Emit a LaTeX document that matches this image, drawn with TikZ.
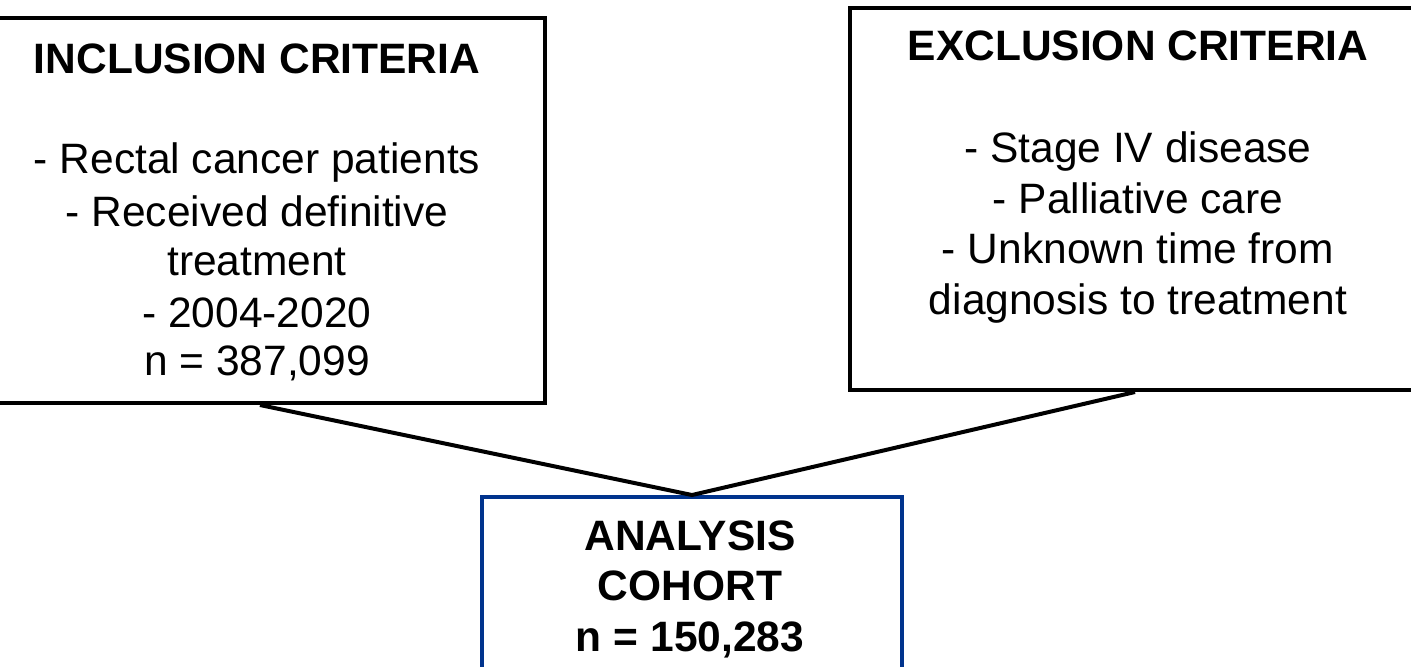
\documentclass[tikz,border=0pt]{standalone}
\usepackage{fontspec}
\setmainfont{Liberation Sans}
\definecolor{cohortblue}{HTML}{00338D}
\begin{document}
\begin{tikzpicture}[x=0.5pt,y=-0.5pt,
  box/.style={draw=black,line width=2pt,rectangle,inner sep=0pt},
  bluebox/.style={draw=cohortblue,line width=2pt,rectangle,inner sep=0pt},
  txt/.style={anchor=base,inner sep=0pt,font=\fontsize{21.25pt}{25pt}\selectfont},
  btxt/.style={txt,font=\fontsize{21.25pt}{25pt}\selectfont\bfseries},
  conn/.style={line width=2pt}]
\useasboundingbox (0,0) rectangle (1411,666);
\clip (0,0) rectangle (1411,666);
\fill[white] (0,0) rectangle (1411,666);
% boxes
\node[box,minimum width=285pt,minimum height=192.5pt] (inc) at (260,210.5) {};
\node[box,minimum width=285pt,minimum height=191pt] (exc) at (1135,199) {};
\node[bluebox,minimum width=210pt,minimum height=101.5pt] (coh) at (692,598.5) {};
% connectors
\draw[conn] (inc.south) -- (coh.north) -- (exc.south);
% inclusion text
\node[btxt] (i0) at (257,73) {INCLUSION CRITERIA};
\node[txt] (i1) at (257,173) {- Rectal cancer patients};
\node[txt] (i2) at (257,226) {- Received definitive};
\node[txt] (i3) at (257,275) {treatment};
\node[txt] (i4) at (257,327) {- 2004-2020};
\node[txt] (i5) at (257,375) {n = 387,099};
% exclusion text
\node[btxt] (e0) at (1138,60) {EXCLUSION CRITERIA};
\node[txt] (e1) at (1138,162) {- Stage IV disease};
\node[txt] (e2) at (1138,213) {- Palliative care};
\node[txt] (e3) at (1138,263) {- Unknown time from};
\node[txt] (e4) at (1138,314) {diagnosis to treatment};
% cohort text
\node[btxt] (c0) at (690,550) {ANALYSIS};
\node[btxt] (c1) at (690,600) {COHORT};
\node[btxt] (c2) at (690,651) {n = 150,283};
\end{tikzpicture}
\end{document}
